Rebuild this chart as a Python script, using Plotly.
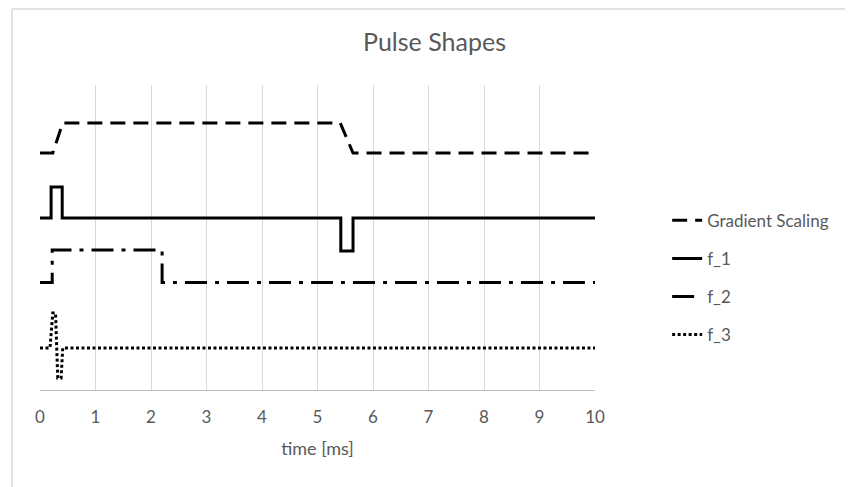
import plotly.graph_objects as go

# time points (ms) and levels (arbitrary units, traces stacked vertically)
gs_t = [0, 0.23, 0.41, 5.41, 5.64, 10]
gs_y = [237, 237, 267, 267, 237, 237]

f1_t = [0, 0.2, 0.2, 0.4, 0.4, 5.42, 5.42, 5.64, 5.64, 10]
f1_y = [172, 172, 203, 203, 172, 172, 139, 139, 172, 172]

f2_t = [0, 0.22, 0.22, 2.2, 2.2, 10]
f2_y = [107.5, 107.5, 140, 140, 107.5, 107.5]

f3_t = [0, 0.18, 0.23, 0.28, 0.32, 0.38, 0.41, 10]
f3_y = [42, 42, 77, 77, 12, 12, 42, 42]

names = ["Gradient Scaling", "f_1", "f_2", "f_3"]
dashes = ["15px,8px", "solid", "22px,8px,4px,8px", "3px,2.5px"]

grey = "#595959"
font = "Lato, 'Open Sans', sans-serif"

fig = go.Figure()
for i, (t, y) in enumerate([(gs_t, gs_y), (f1_t, f1_y), (f2_t, f2_y), (f3_t, f3_y)]):
    fig.add_trace(go.Scatter(
        x=t, y=y, mode="lines", name=names[i], legendgroup=names[i],
        line=dict(color="black", width=3, dash=dashes[i]),
    ))

fig.update_layout(
    width=853, height=487,
    margin=dict(l=32, r=266, t=77, b=105),
    paper_bgcolor="white", plot_bgcolor="white",
    title=dict(text="Pulse Shapes", x=0.5, xanchor="center", y=0.93, yanchor="middle",
               font=dict(family=font, size=25, color=grey)),
    font=dict(family=font, color=grey),
    xaxis=dict(range=[0, 10], dtick=1, tick0=0, showgrid=True, gridcolor="#d9d9d9", gridwidth=1,
               showline=True, linecolor="#bfbfbf", linewidth=1, zeroline=False,
               ticks="", tickfont=dict(size=17, color=grey), ticklabelstandoff=12,
               title=dict(text="time [ms]", font=dict(size=18, color=grey), standoff=15)),
    yaxis=dict(range=[0, 305], visible=False, showgrid=False, zeroline=False),
    showlegend=True,
    legend=dict(x=1.13, y=0.614, xanchor="left", yanchor="top", tracegroupgap=13,
                font=dict(size=17, color=grey), bgcolor="rgba(0,0,0,0)"),
    shapes=[
        dict(type="line", xref="paper", yref="paper", x0=-0.0505, x1=1.6, y0=1.249, y1=1.249,
             line=dict(color="#d9d9d9", width=1.5)),
        dict(type="line", xref="paper", yref="paper", x0=-0.0505, x1=-0.0505, y0=1.249, y1=-0.4,
             line=dict(color="#d9d9d9", width=1.5)),
    ],
)

fig.write_html("out.html")
